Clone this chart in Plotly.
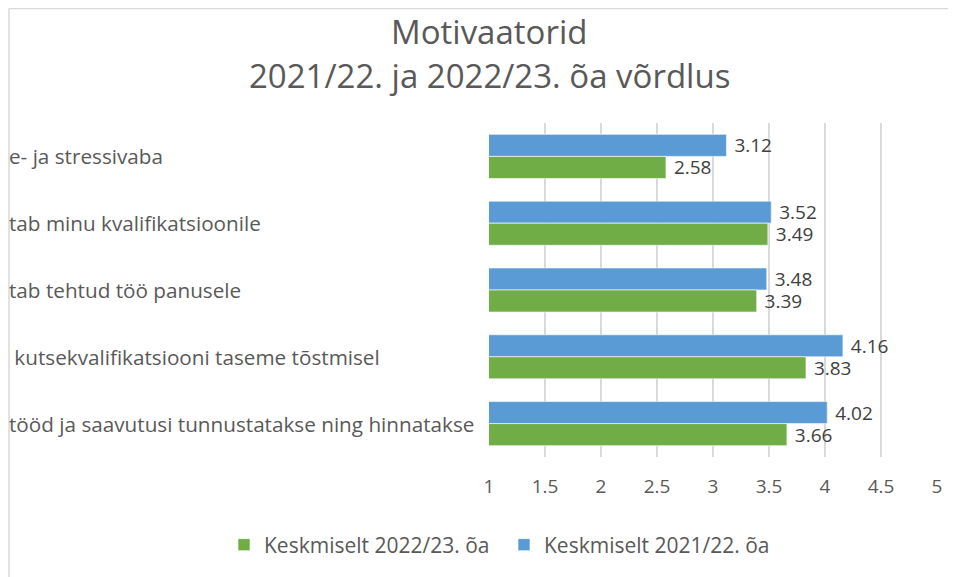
import plotly.graph_objects as go

categories = [
    "e- ja stressivaba",
    "tab minu kvalifikatsioonile",
    "tab tehtud töö panusele",
    "\u00a0kutsekvalifikatsiooni taseme tõstmisel",
    "tööd ja saavutusi tunnustatakse ning hinnatakse",
]
values_2021_22 = [3.12, 3.52, 3.48, 4.16, 4.02]
values_2022_23 = [2.58, 3.49, 3.39, 3.83, 3.66]
series_names = ["Keskmiselt 2021/22. õa", "Keskmiselt 2022/23. õa"]
title_lines = ["Motivaatorid", "2021/22. ja 2022/23. õa võrdlus"]
x_ticks = [1, 1.5, 2, 2.5, 3, 3.5, 4, 4.5, 5]

# page has an 8px body margin; figure sized to fit the window
OFF = 8
W, H = 956 - OFF, 577 - OFF
ML, MR, MT, MB = 489 - OFF, 19, 123 - OFF, 120
PW, PH = W - ML - MR, H - MT - MB

def px_x(page_x):
    return (page_x - OFF - ML) / PW

def px_y(page_y):
    return (H - MB - (page_y - OFF)) / PH

FONT = "Open Sans"
TXT = "#595959"
BLUE = "#5B9BD5"
GREEN = "#70AD47"

fig = go.Figure()
fig.add_trace(go.Bar(
    y=categories, x=values_2021_22, orientation="h", name=series_names[0],
    marker=dict(color=BLUE, line=dict(color="white", width=0.6)),
    text=[f"{v:.2f}" for v in values_2021_22], textposition="outside",
    texttemplate=" %{text}", constraintext="none",
    textfont=dict(family=FONT, size=19, color="#404040"), cliponaxis=False,
))
fig.add_trace(go.Bar(
    y=categories, x=values_2022_23, orientation="h", name=series_names[1],
    marker=dict(color=GREEN, line=dict(color="white", width=0.6)),
    text=[f"{v:.2f}" for v in values_2022_23], textposition="outside",
    texttemplate=" %{text}", constraintext="none",
    textfont=dict(family=FONT, size=19, color="#404040"), cliponaxis=False,
))

annotations = []
for c in categories:
    annotations.append(dict(
        x=px_x(9), xref="paper", y=c, yref="y", text=c, showarrow=False,
        xanchor="left", yanchor="middle", xshift=-2,
        font=dict(family=FONT, size=20.7, color=TXT),
    ))
annotations.append(dict(x=px_x(489), xref="paper", y=px_y(31), yref="paper",
                        text=title_lines[0], showarrow=False, xanchor="center", yanchor="middle",
                        font=dict(family=FONT, size=33, color=TXT)))
annotations.append(dict(x=px_x(489), xref="paper", y=px_y(76), yref="paper",
                        text=title_lines[1], showarrow=False, xanchor="center", yanchor="middle",
                        font=dict(family=FONT, size=33, color=TXT)))

shapes = [
    dict(type="line", xref="paper", yref="paper", x0=px_x(9), x1=px_x(9), y0=px_y(8.5), y1=px_y(577),
         line=dict(color="#D9D9D9", width=1.5)),
    dict(type="line", xref="paper", yref="paper", x0=px_x(9), x1=px_x(956), y0=px_y(8.5), y1=px_y(8.5),
         line=dict(color="#D9D9D9", width=1.5)),
]

fig.update_layout(
    width=W, height=H,
    margin=dict(l=ML, r=MR, t=MT, b=MB, autoexpand=False),
    paper_bgcolor="white", plot_bgcolor="white",
    barmode="group", bargap=0.34, bargroupgap=0.0,
    font=dict(family=FONT, color=TXT),
    xaxis=dict(range=[1, 5], tickvals=x_ticks, ticktext=[str(t) for t in x_ticks],
               showgrid=True, gridcolor="#D9D9D9", gridwidth=1.5, zeroline=False, showline=False,
               ticklabelstandoff=16, tickfont=dict(family=FONT, size=19, color=TXT)),
    yaxis=dict(autorange="reversed", showticklabels=False, showgrid=False, showline=False,
               zeroline=False),
    showlegend=True,
    legend=dict(orientation="h", traceorder="reversed", x=px_x(224), xanchor="left",
                y=px_y(545), yanchor="middle", font=dict(family=FONT, size=21, color=TXT),
                itemwidth=30, entrywidth=235, entrywidthmode="pixels", itemclick=False),
    annotations=annotations, shapes=shapes,
)

fig.write_html("out.html")
